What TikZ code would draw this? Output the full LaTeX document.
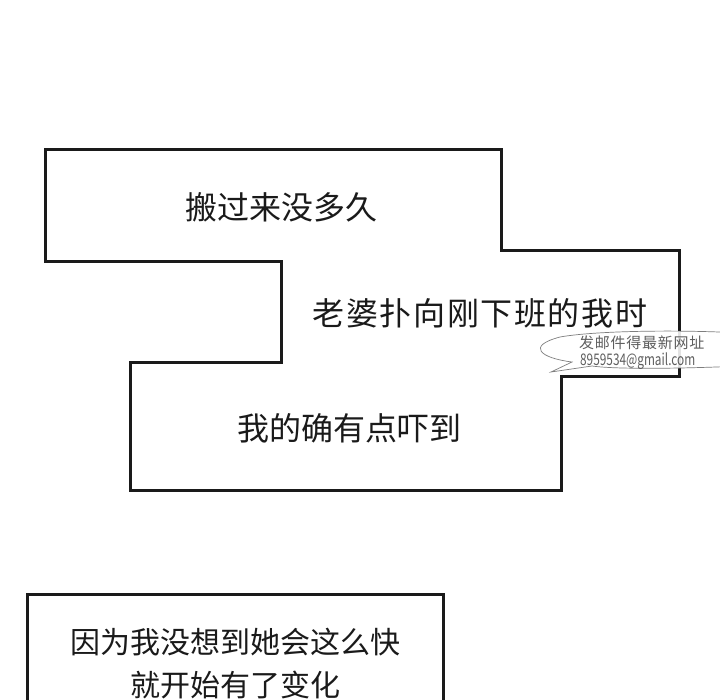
\documentclass[tikz,border=0pt]{standalone}
\usepackage{fontspec}
\newfontfamily\cjk{Noto Sans CJK SC}
\newfontfamily\cjkwide{Noto Sans CJK SC}[LetterSpace=5]
\definecolor{ink}{HTML}{1A1A1A}
\definecolor{wm}{HTML}{5E5E5E}
\tikzset{
  panel/.style={draw=ink, line width=3pt, line join=miter},
  caption/.style={text=ink, inner sep=0pt, align=center},
  wmtext/.style={text=wm, inner sep=0pt},
  bubble/.style={draw=wm!80, line width=0.7pt, fill=white, fill opacity=0.88}
}
\begin{document}
\begin{tikzpicture}[x=1pt,y=-1pt]
\clip (0,0) rectangle (720,700);
\fill[white] (0,0) rectangle (720,700);
% stepped panel
\draw[panel] (45,150) -- (501,150) -- (501,251) -- (679,251) -- (679,377)
  -- (561,377) -- (561,490) -- (130,490) -- (130,363) -- (281,363)
  -- (281,262) -- (45,262) -- cycle;
% lower panel
\draw[panel] (27,715) -- (27,594) -- (443,594) -- (443,715);
% captions
\node[caption, font=\cjk\fontsize{32}{38}\selectfont] (t1) at (281,207) {搬过来没多久};
\node[caption, font=\cjkwide\fontsize{32}{38}\selectfont] (t2) at (480,313) {老婆扑向刚下班的我时};
\node[caption, font=\cjk\fontsize{32}{38}\selectfont] (t3) at (349,428) {我的确有点吓到};
\node[caption, font=\cjk\fontsize{30}{43}\selectfont, anchor=north] (t4) at (235,628) {因为我没想到她会这么快\\就开始有了变化};
% watermark bubble
\draw[bubble] (551,372) -- (572,362) .. controls (540,358) and (526,346) .. (560,337)
  .. controls (600,330) and (690,330) .. (740,333) -- (740,366)
  .. controls (700,368) and (620,370) .. (592,366) -- cycle;
\node[wmtext, font=\cjkwide\fontsize{15}{17}\selectfont, anchor=west] (w1) at (579,343) {发邮件得最新网址};
\node[wmtext, font=\cjk\fontsize{16}{18}\selectfont, anchor=west, xscale=0.74] (w2) at (580,361) {8959534@gmail.com};
\end{tikzpicture}
\end{document}
